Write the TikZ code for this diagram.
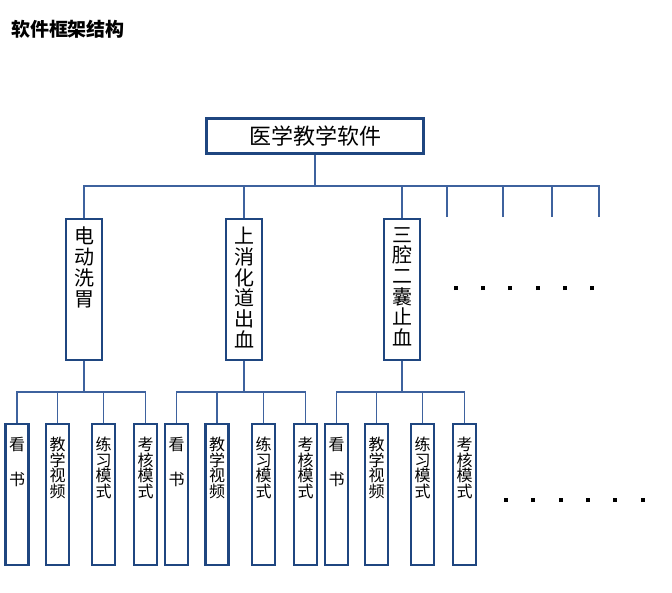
\documentclass[tikz,border=0pt]{standalone}
\usepackage{fontspec}
\newfontfamily\cjk{Noto Sans CJK SC}
\definecolor{boxblue}{RGB}{31,70,128}
\definecolor{lineblue}{RGB}{62,98,158}
\newcommand{\colstack}[4]{\parbox[t][#1][t]{#2}{\centering\vspace*{#3}#4}}
\newcommand{\dotrow}{\rule{4pt}{4pt}\hspace{23.3pt}\rule{4pt}{4pt}\hspace{23.3pt}\rule{4pt}{4pt}\hspace{23.3pt}\rule{4pt}{4pt}\hspace{23.3pt}\rule{4pt}{4pt}\hspace{23.3pt}\rule{4pt}{4pt}}
\tikzset{
  mainbox/.style={draw=boxblue,line width=2.5pt,fill=white,inner sep=0pt,minimum width=217,minimum height=35,font=\cjk\fontsize{22}{22}\selectfont},
  midbox/.style={draw=boxblue,line width=2.4pt,fill=white,inner sep=0pt,anchor=north,font=\cjk\fontsize{20}{20.7}\selectfont},
  subbox/.style={draw=boxblue,line width=2.3pt,fill=white,inner sep=0pt,anchor=north,font=\cjk\fontsize{16}{15.5}\selectfont},
  link/.style={draw=lineblue,line width=1.5pt}
}
\begin{document}
\begin{tikzpicture}[x=1pt,y=-1pt]
\useasboundingbox(0,0)rectangle(672,592);
\node[font=\cjk\bfseries\fontsize{19}{19}\selectfont](title)at(68,29){软件框架结构};

\node[mainbox](r)at(315,136){医学教学软件};
\node[midbox](a1)at(84,218){\colstack{141pt}{36pt}{8pt}{电\\动\\洗\\胃}};
\node[midbox](a2)at(244,218){\colstack{141pt}{36pt}{8pt}{上\\消\\化\\道\\出\\血}};
\node[midbox](a3)at(402,218){\colstack{141pt}{36pt}{8pt}{三\\腔\\二\\囊\\止\\血}};
\coordinate(j0)at(315,186);
\coordinate(e1)at(447,217);
\coordinate(e2)at(503,217);
\coordinate(e3)at(552,217);
\coordinate(e4)at(599,217);
\node[inner sep=0pt](dots1)at(524,288){\dotrow};

\node[subbox](b11)at(17,423){\colstack{141pt}{23pt}{13pt}{看\\[19.5pt]书}};
\node[subbox](b12)at(57.5,423){\colstack{141pt}{23pt}{13pt}{教\\学\\视\\频}};
\node[subbox](b13)at(103.5,423){\colstack{141pt}{23pt}{13pt}{练\\习\\模\\式}};
\node[subbox](b14)at(145.5,423){\colstack{141pt}{23pt}{13pt}{考\\核\\模\\式}};
\node[subbox](b21)at(176.5,423){\colstack{141pt}{23pt}{13pt}{看\\[19.5pt]书}};
\node[subbox](b22)at(217,423){\colstack{141pt}{23pt}{13pt}{教\\学\\视\\频}};
\node[subbox](b23)at(263.5,423){\colstack{141pt}{23pt}{13pt}{练\\习\\模\\式}};
\node[subbox](b24)at(305.5,423){\colstack{141pt}{23pt}{13pt}{考\\核\\模\\式}};
\node[subbox](b31)at(336.5,423){\colstack{141pt}{23pt}{13pt}{看\\[19.5pt]书}};
\node[subbox](b32)at(376.5,423){\colstack{141pt}{23pt}{13pt}{教\\学\\视\\频}};
\node[subbox](b33)at(422.5,423){\colstack{141pt}{23pt}{13pt}{练\\习\\模\\式}};
\node[subbox](b34)at(464.5,423){\colstack{141pt}{23pt}{13pt}{考\\核\\模\\式}};
\coordinate(k1)at(84,392);
\coordinate(k2)at(244,392);
\coordinate(k3)at(402,392);
\node[inner sep=0pt](dots2)at(574.3,500){\dotrow};

\draw[link](r)--(j0);
\draw[link](a1)|-(j0);
\draw[link](e4)|-(j0);
\draw[link](a2)--(a2|-j0);
\draw[link](a3)--(a3|-j0);
\draw[link](e1)--(e1|-j0);
\draw[link](e2)--(e2|-j0);
\draw[link](e3)--(e3|-j0);

\draw[link](a1)--(k1);
\draw[link](b11)|-(k1);
\draw[link](b14)|-(k1);
\draw[link](b12)--(b12|-k1);
\draw[link](b13)--(b13|-k1);
\draw[link](a2)--(k2);
\draw[link](b21)|-(k2);
\draw[link](b24)|-(k2);
\draw[link](b22)--(b22|-k2);
\draw[link](b23)--(b23|-k2);
\draw[link](a3)--(k3);
\draw[link](b31)|-(k3);
\draw[link](b34)|-(k3);
\draw[link](b32)--(b32|-k3);
\draw[link](b33)--(b33|-k3);

\end{tikzpicture}
\end{document}
